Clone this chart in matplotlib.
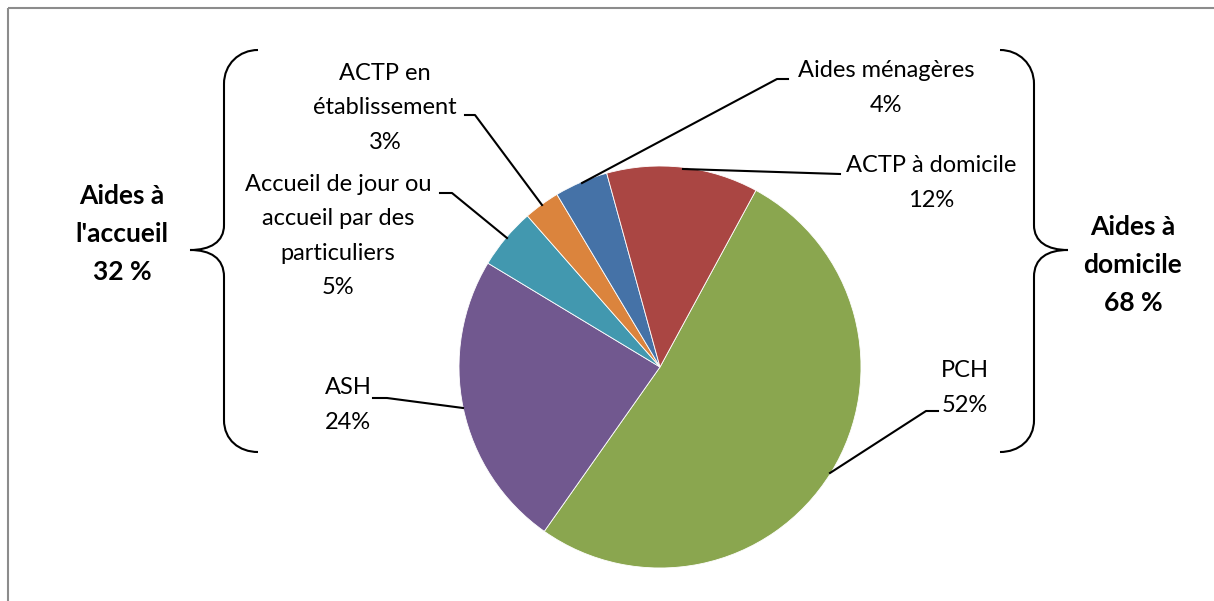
import matplotlib
matplotlib.use("Agg")
import matplotlib.pyplot as plt
from matplotlib.path import Path
from matplotlib.patches import PathPatch, Rectangle

# parts du pie (en %), dans l'ordre de tracé (sens horaire)
categories = ["PCH", "ASH", "Accueil de jour ou\naccueil par des\nparticuliers",
              "ACTP en\nétablissement", "Aides ménagères", "ACTP à domicile"]
valeurs = [51.9, 23.9, 4.9, 2.9, 4.3, 12.2]
couleurs = ["#8AA64F", "#71588F", "#4298AF", "#DB843D", "#4572A7", "#AA4643"]

groupe_accueil = ["ASH", "Accueil de jour ou\naccueil par des\nparticuliers", "ACTP en\nétablissement"]
groupe_domicile = ["PCH", "Aides ménagères", "ACTP à domicile"]

plt.rcParams["font.family"] = ["Lato", "DejaVu Sans"]

W, H = 1214, 601
fig = plt.figure(figsize=(W / 100, H / 100), dpi=100)
ax = fig.add_axes([0, 0, 1, 1])

ax.pie(valeurs, colors=couleurs, center=(660, 367), radius=201,
       startangle=-61.5, counterclock=True,
       wedgeprops=dict(edgecolor="white", linewidth=0.6))
ax.set_xlim(0, W)
ax.set_ylim(H, 0)
ax.set_aspect("equal")
ax.axis("off")

# cadre du graphique
ax.add_patch(Rectangle((8, 8), W + 20, H + 20, fill=False, edgecolor="#8c8c8c", lw=1.5))

fs = 17
ls = 1.77
total = sum(valeurs)
# position du texte et trait de rappel pour chaque part
pos_labels = {
    "PCH": (965, 388),
    "ASH": (348, 405),
    "Accueil de jour ou\naccueil par des\nparticuliers": (338, 236),
    "ACTP en\nétablissement": (385, 108),
    "Aides ménagères": (886, 88),
    "ACTP à domicile": (931, 183),
}
traits = {
    "PCH": [(938, 411), (926, 411), (830, 473)],
    "ASH": [(373, 398), (387, 398), (463, 408)],
    "Accueil de jour ou\naccueil par des\nparticuliers": [(440, 193), (452, 193), (507, 238)],
    "ACTP en\nétablissement": [(465, 115), (475, 115), (542, 205)],
    "Aides ménagères": [(788, 79), (777, 79), (582, 183)],
    "ACTP à domicile": [(840, 174), (683, 169)],
}
for cat, v in zip(categories, valeurs):
    x, y = pos_labels[cat]
    ax.text(x, y, f"{cat}\n{v / total * 100:.0f}%", ha="center", va="center",
            fontsize=fs, linespacing=ls, color="black")
    pts = traits[cat]
    ax.plot([p[0] for p in pts], [p[1] for p in pts], color="black", lw=1.5)

# accolades
def accolade(xe, xv, xt):
    verts = [(xe, 50), (xv + (xe - xv) * 0.45, 50), (xv, 64), (xv, 84),
             (xv, 225), (xv, 242), (xv + (xt - xv) * 0.4, 250), (xt, 250),
             (xv + (xt - xv) * 0.4, 250), (xv, 258), (xv, 277),
             (xv, 420), (xv, 440), (xv + (xe - xv) * 0.45, 452), (xe, 452)]
    codes = [Path.MOVETO, Path.CURVE4, Path.CURVE4, Path.CURVE4,
             Path.LINETO, Path.CURVE4, Path.CURVE4, Path.CURVE4,
             Path.CURVE4, Path.CURVE4, Path.CURVE4,
             Path.LINETO, Path.CURVE4, Path.CURVE4, Path.CURVE4]
    ax.add_patch(PathPatch(Path(verts, codes), fill=False, edgecolor="black", lw=1.5))

accolade(258, 224, 190)
accolade(1000, 1034, 1068)

pct_accueil = sum(v for c, v in zip(categories, valeurs) if c in groupe_accueil) / total * 100
pct_domicile = sum(v for c, v in zip(categories, valeurs) if c in groupe_domicile) / total * 100
ax.text(122, 234, f"Aides à\nl'accueil\n{pct_accueil:.0f} %", ha="center", va="center",
        fontsize=19, fontweight="bold", linespacing=1.68)
ax.text(1133, 265, f"Aides à\ndomicile\n{pct_domicile:.0f} %", ha="center", va="center",
        fontsize=19, fontweight="bold", linespacing=1.68)

fig.savefig("out.png", dpi=100)
